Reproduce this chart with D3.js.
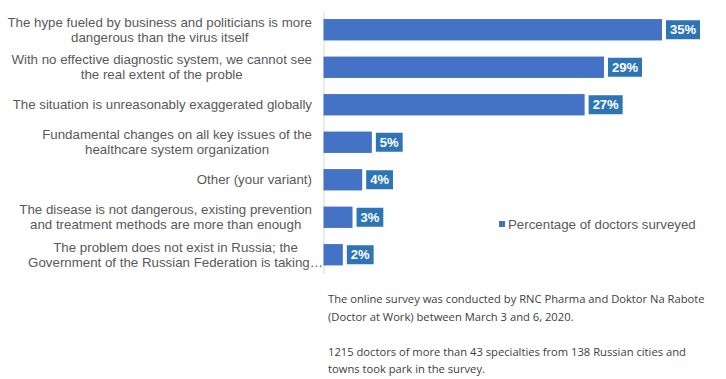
<!DOCTYPE html>
<html>
<head>
<meta charset="utf-8">
<script src="https://cdn.jsdelivr.net/npm/d3@7"></script>
<style>
  body { margin: 0; background: #fff; }
  svg { display: block; }
</style>
</head>
<body>
<svg id="chart"></svg>
<script>
// survey answers, top to bottom
const categories = [
  "The hype fueled by business and politicians is more\ndangerous than the virus itself",
  "With no effective diagnostic system, we cannot see\nthe real extent of the proble",
  "The situation is unreasonably exaggerated globally",
  "Fundamental changes on all key issues of the\nhealthcare system organization",
  "Other (your variant)",
  "The disease is not dangerous, existing prevention\nand treatment methods are more than enough",
  "The problem does not exist in Russia; the\nGovernment of the Russian Federation is taking\u2026"
]
const values = [35, 29, 27, 5, 4, 3, 2]
const seriesName = "Percentage of doctors surveyed"
const notes = [
  "The online survey was conducted by RNC Pharma and Doktor Na Rabote",
  "(Doctor at Work) between March 3 and 6, 2020.",
  "",
  "1215 doctors of more than 43 specialties from 138 Russian cities and",
  "towns took park in the survey."
]

const width = 726
const height = 379
const svg = d3.select("#chart").attr("width", width).attr("height", height)

const xScale = d3.scaleLinear()
  .domain([0, d3.max(values)])
  .range([323.5, 662])

const yScale = d3.scaleBand()
  .domain(categories)
  .range([11, 273.5])
  .paddingInner(0.43)
  .paddingOuter(0.215)

// vertical axis line, no ticks
const axis = svg.append("g")
  .attr("transform", `translate(${xScale(0)},0)`)
  .call(d3.axisLeft(yScale).tickSize(0).tickFormat(""))
axis.select(".domain").attr("stroke", "#d9d9d9")

// bars
svg.append("g")
  .selectAll("rect")
  .data(values)
  .enter().append("rect")
  .attr("x", xScale(0))
  .attr("y", (d, i) => yScale(categories[i]))
  .attr("width", d => xScale(d) - xScale(0))
  .attr("height", yScale.bandwidth())
  .style("fill", "#4472c4")

// data labels in boxes
const labels = svg.append("g")
  .selectAll("g")
  .data(values)
  .enter().append("g")
labels.append("text")
  .attr("y", (d, i) => yScale(categories[i]) + yScale.bandwidth() / 2)
  .attr("dy", "0.35em")
  .attr("text-anchor", "middle")
  .style("font-family", "Arial, 'Liberation Sans', sans-serif")
  .style("font-size", "13px")
  .style("font-weight", "bold")
  .style("fill", "#fff")
  .text(d => d + "%")
labels.each(function (d, i) {
  const g = d3.select(this)
  const t = g.select("text")
  const w = t.node().getComputedTextLength() + 8
  const x0 = xScale(d) + 4
  t.attr("x", x0 + w / 2)
  g.insert("rect", "text")
    .attr("x", x0)
    .attr("y", yScale(categories[i]) + yScale.bandwidth() / 2 - 9.5)
    .attr("width", w)
    .attr("height", 19)
    .style("fill", "#2e75b6")
})

// category labels: block right aligned, lines centred
const catRight = 312
const lineH = 15
svg.append("g")
  .selectAll("g")
  .data(categories)
  .enter().append("g")
  .each(function (c, i) {
    const g = d3.select(this)
    const lines = c.split("\n")
    const cy = yScale(c) + yScale.bandwidth() / 2
    const texts = lines.map((l, j) => g.append("text")
      .attr("y", cy + (j - (lines.length - 1) / 2) * lineH)
      .attr("dy", "0.35em")
      .attr("text-anchor", "middle")
      .style("font-family", "Arial, 'Liberation Sans', sans-serif")
      .style("font-size", "13.3px")
      .style("fill", "#595959")
      .text(l))
    const blockW = d3.max(texts, t => t.node().getComputedTextLength())
    // the truncated last label spills over to the axis
    const right = i === categories.length - 1 ? 323 : catRight
    texts.forEach(t => t.attr("x", right - blockW / 2))
  })

// legend
const legend = svg.append("g").attr("transform", "translate(499,221)")
legend.append("rect").attr("width", 6).attr("height", 6).style("fill", "#4472c4")
legend.append("text")
  .attr("x", 9)
  .attr("y", 3)
  .attr("dy", "0.35em")
  .style("font-family", "Arial, 'Liberation Sans', sans-serif")
  .style("font-size", "13.3px")
  .style("fill", "#595959")
  .text(seriesName)

// source notes
const noteY = [303, 321, 338, 356, 373]
svg.append("g")
  .selectAll("text")
  .data(notes)
  .enter().append("text")
  .attr("x", 328)
  .attr("y", (d, i) => noteY[i])
  .style("font-family", "'Open Sans', sans-serif")
  .style("font-size", "11.2px")
  .style("fill", "#404040")
  .text(d => d)
</script>
</body>
</html>
